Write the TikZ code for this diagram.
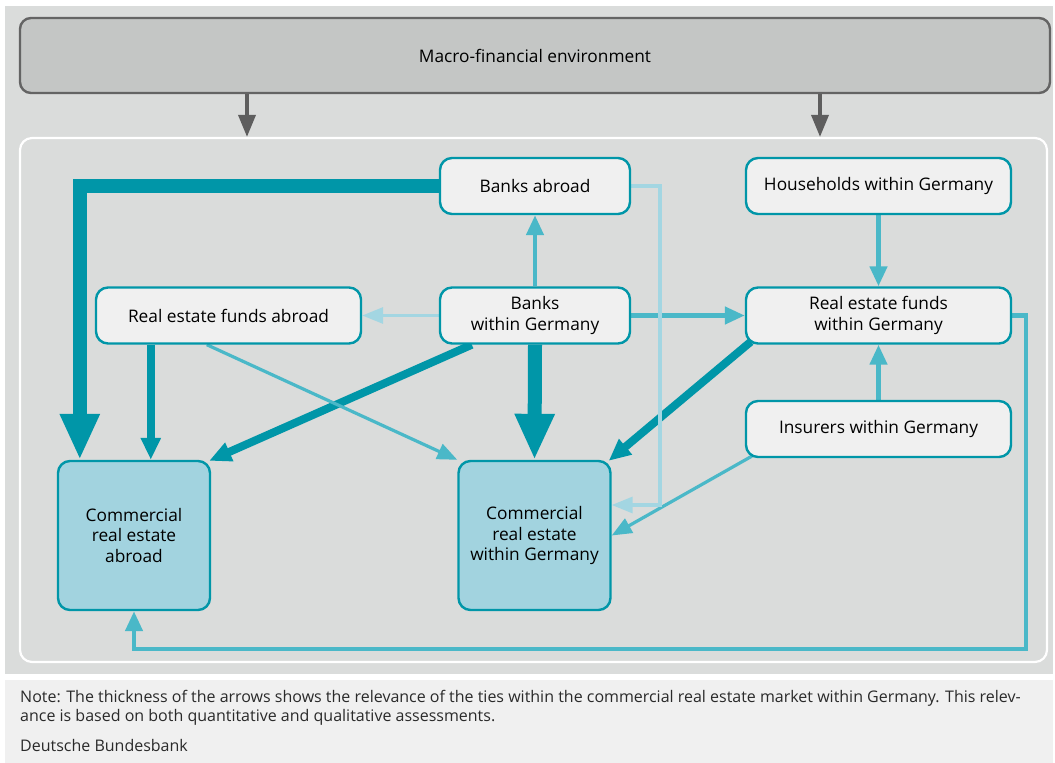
\documentclass[tikz,border=0pt]{standalone}
\usepackage{fontspec}
\setmainfont{Open Sans}
\usetikzlibrary{arrows.meta,calc}
\definecolor{panelgray}{HTML}{DADCDB}
\definecolor{macrofill}{HTML}{C4C6C5}
\definecolor{macroline}{HTML}{646464}
\definecolor{boxfill}{HTML}{F0F0F0}
\definecolor{creafill}{HTML}{A2D3DF}
\definecolor{tealdark}{HTML}{0096A8}
\definecolor{tealmid}{HTML}{4AB8C8}
\definecolor{teallight}{HTML}{A3D6E2}
\definecolor{greyarrow}{HTML}{5E5E5E}
\definecolor{notebg}{HTML}{F0F0F0}
\definecolor{notetext}{HTML}{2A2A2A}
\pgfdeclarelayer{back}
\pgfdeclarelayer{links}
\pgfsetlayers{back,links,main}
\begin{document}
\begin{tikzpicture}[x=1pt,y=-1pt,
  box/.style={draw=tealdark, line width=2.4pt, fill=boxfill, rounded corners=12pt,
    minimum height=56pt, align=center, inner sep=0pt,
    font=\fontsize{17.3}{20.5}\selectfont},
  crebox/.style={box, fill=creafill, minimum width=152pt, minimum height=149pt},
  heavy/.style={draw=tealdark, line width=14pt, -{Triangle[length=46pt,width=37pt]}},
  strong/.style={draw=tealdark, line width=8pt, -{Triangle[length=22pt,width=19pt]}},
  medium/.style={draw=tealmid, line width=4.5pt, -{Triangle[length=20pt,width=17pt]}},
  thin/.style={draw=tealmid, line width=3.2pt, -{Triangle[length=20pt,width=16pt]}},
  faint/.style={draw=teallight, line width=3.2pt, -{Triangle[length=21pt,width=16pt]}},
  envarrow/.style={draw=greyarrow, line width=3.6pt, -{Triangle[length=22pt,width=17pt]}},
  notefont/.style={font=\fontsize{16}{19}\selectfont, text=notetext, inner sep=0pt}
]
\useasboundingbox (0,0) rectangle (1055,763);

% panels
\begin{pgfonlayer}{back}
  \fill[panelgray] (5,6) rectangle (1053,674);
  \fill[notebg] (5,680) rectangle (1053,763);
  \node[draw=macroline, line width=2.4pt, fill=macrofill, rounded corners=11pt,
    minimum width=1030pt, minimum height=75pt, inner sep=0pt,
    font=\fontsize{17.3}{20.5}\selectfont] (macro) at (535,55.5) {Macro-financial environment};
  \node[draw=white, line width=2.2pt, fill=panelgray, rounded corners=12pt,
    minimum width=1027pt, minimum height=524pt] (inner) at (533.5,400) {};
\end{pgfonlayer}

% actors
\node[box, minimum width=190pt] (ba)  at (535,186)   {Banks abroad};
\node[box, minimum width=265pt] (hh)  at (878.5,186) {Households within Germany};
\node[box, minimum width=265pt] (rfa) at (228.5,315.5) {Real estate funds abroad};
\node[box, minimum width=190pt] (bw)  at (535,315.5) {Banks\\within Germany};
\node[box, minimum width=265pt] (rfw) at (878.5,315.5) {Real estate funds\\within Germany};
\node[box, minimum width=265pt] (ins) at (878.5,429) {Insurers within Germany};
\node[crebox] (crea) at (134,535.5) {Commercial\\real estate\\abroad};
\node[crebox] (crew) at (534.5,535.5) {Commercial\\real estate\\within Germany};

% helper points
\coordinate (m1) at (247,0);
\coordinate (m2) at (820,0);
\coordinate (bend) at (660,505);
\coordinate (rail) at (1026,649);

% links
\begin{pgfonlayer}{links}
  \draw[envarrow] (macro.south -| m1) -- (inner.north -| m1);
  \draw[envarrow] (macro.south -| m2) -- (inner.north -| m2);

  \draw[heavy] (ba.west) -| ($(crea.north west)+(23,0)$);
  \coordinate (r2) at ($(rfa.south west)+(56,0)$);
  \draw[strong] (r2) -- (r2 |- crea.north);
  \draw[strong] ($(bw.south west)+(33,0)$) -- ($(crea.north east)+(-2,1)$);
  \draw[heavy] (bw.south) -- (crew.north);
  \draw[strong] ($(rfw.south west)+(6,-3)$) -- ($(crew.north east)+(-3,1)$);

  \draw[medium] (bw.north) -- (ba.south);
  \draw[medium] (bw.east) -- (rfw.west);
  \draw[medium] (hh.south) -- (rfw.north);
  \draw[medium] (ins.north) -- (rfw.south);
  \draw[medium] (rfw.east) -| (rail) -| (crea.south);

  \draw[thin] ($(rfa.south west)+(112,0)$) -- (crew.north west);
  \draw[thin] ($(ins.south west)+(7,-2)$) -- (crew.east);

  \draw[faint] (bw.west) -- (rfa.east);
  \draw[faint] (ba.east) -| (bend) -- (bend -| crew.east);
\end{pgfonlayer}

% note
\node[notefont, anchor=north west, align=left] (note) at (20,690)
  {Note: The thickness of the arrows shows the relevance of the ties within the commercial real estate market within Germany. This relev-\\ance is based on both quantitative and qualitative assessments.};
\node[notefont, anchor=west] (source) at (20,745) {Deutsche Bundesbank};
\end{tikzpicture}
\end{document}
